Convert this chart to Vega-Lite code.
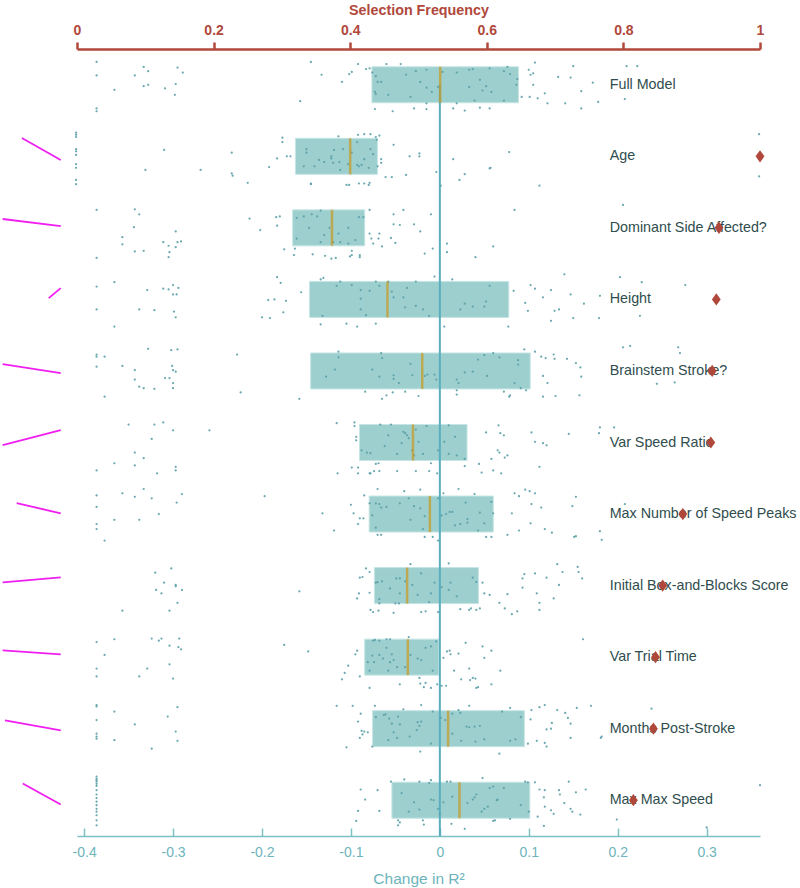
{
"$schema": "https://vega.github.io/schema/vega-lite/v6.json",
"width": 683, "height": 787,
"autosize": {"type": "none"},
"padding": {"left": 77, "top": 49, "right": 40, "bottom": 52},
"background": "white",
"config": {"view": {"stroke": null}, "font": "Liberation Sans"},
"datasets": {
"boxes": [
{"r":0,"name":"Full Model","lo":-0.0764,"hi":0.0884,"med":0.0004},
{"r":1,"name":"Age","lo":-0.1624,"hi":-0.0702,"med":-0.1008},
{"r":2,"name":"Dominant Side Affected?","lo":-0.1655,"hi":-0.0845,"med":-0.1213},
{"r":3,"name":"Height","lo":-0.1465,"hi":0.0775,"med":-0.0589},
{"r":4,"name":"Brainstem Stroke?","lo":-0.1453,"hi":0.1016,"med":-0.0198},
{"r":5,"name":"Var Speed Ratio","lo":-0.0903,"hi":0.0306,"med":-0.0302},
{"r":6,"name":"Max Number of Speed Peaks","lo":-0.0795,"hi":0.0601,"med":-0.0112},
{"r":7,"name":"Initial Box-and-Blocks Score","lo":-0.0736,"hi":0.0434,"med":-0.0368},
{"r":8,"name":"Var Trial Time","lo":-0.0845,"hi":-0.0012,"med":-0.036},
{"r":9,"name":"Months Post-Stroke","lo":-0.0756,"hi":0.095,"med":0.0093},
{"r":10,"name":"Max Max Speed","lo":-0.0539,"hi":0.1012,"med":0.0221}
],
"freq": [
{"r":1,"f":1.0},{"r":2,"f":0.940},{"r":3,"f":0.936},{"r":4,"f":0.930},{"r":5,"f":0.928},
{"r":6,"f":0.887},{"r":7,"f":0.8575},{"r":8,"f":0.847},{"r":9,"f":0.844},{"r":10,"f":0.8146}
],
"slopes": [
{"r":1,"d":-0.470,"j":-0.256},{"r":1,"d":-0.4263,"j":0.052},
{"r":2,"d":-0.4916,"j":-0.124},{"r":2,"d":-0.4263,"j":-0.025},
{"r":3,"d":-0.4398,"j":-0.018},{"r":3,"d":-0.4263,"j":-0.158},
{"r":4,"d":-0.4916,"j":-0.095},{"r":4,"d":-0.4263,"j":0.031},
{"r":5,"d":-0.4916,"j":0.038},{"r":5,"d":-0.4263,"j":-0.172},
{"r":6,"d":-0.4758,"j":-0.151},{"r":6,"d":-0.4263,"j":-0.011},
{"r":7,"d":-0.4916,"j":-0.046},{"r":7,"d":-0.4263,"j":-0.116},
{"r":8,"d":-0.4916,"j":-0.095},{"r":8,"d":-0.4263,"j":-0.039},
{"r":9,"d":-0.489,"j":-0.116},{"r":9,"d":-0.4263,"j":0.024},
{"r":10,"d":-0.469,"j":-0.235},{"r":10,"d":-0.4263,"j":0.059}
],
"pts": [
{"r":0,"d":-0.386,"j":-0.32},{"r":0,"d":-0.386,"j":-0.13},{"r":0,"d":-0.333,"j":-0.25},{"r":0,"d":-0.328,"j":-0.19},{"r":0,"d":-0.343,"j":-0.13},{"r":0,"d":-0.295,"j":-0.24},{"r":0,"d":-0.289,"j":-0.17},{"r":0,"d":-0.366,"j":0.07},{"r":0,"d":-0.333,"j":0.02},{"r":0,"d":-0.328,"j":0.0},{"r":0,"d":-0.309,"j":0.05},{"r":0,"d":-0.297,"j":-0.01},{"r":0,"d":-0.298,"j":0.14},{"r":0,"d":-0.386,"j":0.33},{"r":0,"d":-0.386,"j":0.37},
{"r":0,"d":-0.145,"j":-0.32},{"r":0,"d":-0.133,"j":-0.14},{"r":0,"d":-0.110,"j":-0.04},{"r":0,"d":-0.102,"j":-0.15},{"r":0,"d":-0.099,"j":-0.18},{"r":0,"d":-0.092,"j":-0.29},{"r":0,"d":-0.157,"j":0.23},{"r":0,"d":-0.083,"j":-0.22},{"r":0,"d":-0.079,"j":-0.23},{"r":0,"d":-0.076,"j":-0.17},{"r":0,"d":-0.060,"j":-0.29},{"r":0,"d":-0.044,"j":-0.29},
{"r":0,"d":-0.072,"j":-0.12},{"r":0,"d":-0.070,"j":-0.04},{"r":0,"d":-0.066,"j":-0.04},{"r":0,"d":-0.073,"j":0.10},{"r":0,"d":-0.072,"j":0.13},{"r":0,"d":-0.058,"j":0.14},{"r":0,"d":-0.038,"j":-0.14},{"r":0,"d":-0.027,"j":-0.19},{"r":0,"d":-0.015,"j":-0.21},{"r":0,"d":-0.022,"j":-0.04},{"r":0,"d":-0.015,"j":0.04},{"r":0,"d":-0.009,"j":0.10},{"r":0,"d":-0.002,"j":0.03},{"r":0,"d":-0.033,"j":0.17},{"r":0,"d":-0.015,"j":0.26},{"r":0,"d":0.003,"j":-0.18},{"r":0,"d":0.019,"j":-0.17},{"r":0,"d":0.033,"j":-0.21},{"r":0,"d":0.037,"j":-0.22},{"r":0,"d":0.045,"j":-0.07},{"r":0,"d":0.033,"j":0.03},{"r":0,"d":0.048,"j":0.08},{"r":0,"d":0.052,"j":0.02},{"r":0,"d":0.058,"j":0.10},{"r":0,"d":0.056,"j":-0.23},{"r":0,"d":0.072,"j":-0.19},{"r":0,"d":0.076,"j":-0.25},{"r":0,"d":0.079,"j":-0.15},{"r":0,"d":0.087,"j":-0.08},{"r":0,"d":0.086,"j":0.0},{"r":0,"d":0.039,"j":0.22},{"r":0,"d":0.072,"j":0.22},{"r":0,"d":0.019,"j":0.26},
{"r":0,"d":-0.073,"j":0.34},{"r":0,"d":-0.053,"j":0.37},{"r":0,"d":-0.029,"j":0.33},{"r":0,"d":-0.015,"j":0.34},{"r":0,"d":0.015,"j":0.33},{"r":0,"d":0.028,"j":0.36},{"r":0,"d":0.045,"j":0.32},{"r":0,"d":0.056,"j":0.33},
{"r":0,"d":0.092,"j":0.17},{"r":0,"d":0.100,"j":-0.21},{"r":0,"d":0.102,"j":-0.14},{"r":0,"d":0.107,"j":-0.31},{"r":0,"d":0.105,"j":-0.16},{"r":0,"d":0.105,"j":0.0},{"r":0,"d":0.110,"j":0.19},{"r":0,"d":0.101,"j":0.17},{"r":0,"d":0.118,"j":0.12},{"r":0,"d":0.121,"j":0.26},{"r":0,"d":0.133,"j":-0.11},{"r":0,"d":0.141,"j":0.26},{"r":0,"d":0.147,"j":-0.10},{"r":0,"d":0.150,"j":-0.26},{"r":0,"d":0.159,"j":0.09},{"r":0,"d":0.159,"j":0.33},{"r":0,"d":0.172,"j":-0.03},{"r":0,"d":0.178,"j":0.24},{"r":0,"d":0.210,"j":-0.26},{"r":0,"d":0.222,"j":-0.26},{"r":0,"d":0.208,"j":0.20},

{"r":1,"d":-0.409,"j":-0.33},{"r":1,"d":-0.409,"j":-0.30},{"r":1,"d":-0.409,"j":-0.27},{"r":1,"d":-0.409,"j":-0.10},{"r":1,"d":-0.409,"j":-0.07},{"r":1,"d":-0.409,"j":-0.02},{"r":1,"d":-0.409,"j":0.11},{"r":1,"d":-0.409,"j":0.16},{"r":1,"d":-0.409,"j":0.33},{"r":1,"d":-0.409,"j":0.39},
{"r":1,"d":-0.310,"j":-0.09},{"r":1,"d":-0.331,"j":0.19},{"r":1,"d":-0.269,"j":0.19},{"r":1,"d":-0.234,"j":-0.05},{"r":1,"d":-0.234,"j":0.24},{"r":1,"d":-0.233,"j":0.27},{"r":1,"d":-0.216,"j":0.37},{"r":1,"d":-0.192,"j":0.15},{"r":1,"d":-0.183,"j":0.03},{"r":1,"d":-0.177,"j":-0.26},{"r":1,"d":-0.177,"j":-0.20},{"r":1,"d":-0.172,"j":0.0},{"r":1,"d":-0.168,"j":0.0},{"r":1,"d":-0.145,"j":0.39},{"r":1,"d":-0.114,"j":-0.28},{"r":1,"d":-0.105,"j":0.40},{"r":1,"d":-0.102,"j":0.40},{"r":1,"d":-0.091,"j":0.38},{"r":1,"d":-0.085,"j":0.38},{"r":1,"d":-0.080,"j":0.40},{"r":1,"d":-0.079,"j":0.37},{"r":1,"d":-0.092,"j":-0.30},{"r":1,"d":-0.085,"j":-0.31},{"r":1,"d":-0.078,"j":-0.31},{"r":1,"d":-0.072,"j":-0.27},{"r":1,"d":-0.068,"j":-0.29},{"r":1,"d":-0.071,"j":-0.23},{"r":1,"d":-0.066,"j":0.04},{"r":1,"d":-0.066,"j":0.09},{"r":1,"d":-0.070,"j":0.14},{"r":1,"d":-0.061,"j":0.29},{"r":1,"d":-0.054,"j":0.29},{"r":1,"d":-0.052,"j":-0.16},{"r":1,"d":-0.038,"j":0.26},{"r":1,"d":-0.034,"j":0.0},{"r":1,"d":-0.023,"j":-0.04},{"r":1,"d":-0.023,"j":0.0},{"r":1,"d":-0.004,"j":0.22},{"r":1,"d":0.001,"j":0.41},{"r":1,"d":0.015,"j":0.04},{"r":1,"d":0.022,"j":0.33},{"r":1,"d":0.028,"j":0.25},{"r":1,"d":0.056,"j":0.17},{"r":1,"d":0.057,"j":0.16},{"r":1,"d":0.078,"j":-0.06},{"r":1,"d":0.112,"j":0.41},
{"r":1,"d":-0.150,"j":-0.10},{"r":1,"d":-0.150,"j":-0.05},{"r":1,"d":-0.153,"j":0.14},{"r":1,"d":-0.141,"j":0.14},{"r":1,"d":-0.136,"j":0.05},{"r":1,"d":-0.130,"j":0.08},{"r":1,"d":-0.122,"j":0.0},{"r":1,"d":-0.122,"j":0.03},{"r":1,"d":-0.119,"j":-0.09},{"r":1,"d":-0.120,"j":0.09},{"r":1,"d":-0.113,"j":0.08},{"r":1,"d":-0.109,"j":-0.10},{"r":1,"d":-0.112,"j":0.19},{"r":1,"d":-0.103,"j":0.11},{"r":1,"d":-0.099,"j":-0.05},{"r":1,"d":-0.093,"j":-0.20},{"r":1,"d":-0.093,"j":0.12},{"r":1,"d":-0.091,"j":0.14},{"r":1,"d":-0.088,"j":0.12},{"r":1,"d":-0.085,"j":0.04},{"r":1,"d":-0.080,"j":0.16},{"r":1,"d":-0.078,"j":-0.10},{"r":1,"d":-0.075,"j":-0.03},{"r":1,"d":-0.145,"j":0.38},{"r":1,"d":0.359,"j":-0.31},{"r":1,"d":0.359,"j":0.28},

{"r":2,"d":-0.386,"j":-0.25},{"r":2,"d":-0.386,"j":0.42},{"r":2,"d":-0.343,"j":-0.26},{"r":2,"d":-0.338,"j":-0.19},{"r":2,"d":-0.344,"j":-0.01},{"r":2,"d":-0.357,"j":0.13},{"r":2,"d":-0.357,"j":0.23},{"r":2,"d":-0.343,"j":0.33},{"r":2,"d":-0.333,"j":0.32},{"r":2,"d":-0.311,"j":0.20},{"r":2,"d":-0.305,"j":0.25},{"r":2,"d":-0.304,"j":0.34},{"r":2,"d":-0.305,"j":0.41},{"r":2,"d":-0.297,"j":0.27},{"r":2,"d":-0.295,"j":0.20},{"r":2,"d":-0.291,"j":0.19},{"r":2,"d":-0.297,"j":0.05},
{"r":2,"d":-0.214,"j":-0.13},{"r":2,"d":-0.202,"j":0.03},{"r":2,"d":-0.184,"j":-0.15},{"r":2,"d":-0.180,"j":-0.16},{"r":2,"d":-0.183,"j":-0.03},{"r":2,"d":-0.175,"j":0.30},{"r":2,"d":-0.164,"j":0.38},{"r":2,"d":-0.143,"j":0.37},{"r":2,"d":-0.134,"j":-0.24},{"r":2,"d":-0.129,"j":0.39},{"r":2,"d":-0.122,"j":0.43},{"r":2,"d":-0.117,"j":0.42},{"r":2,"d":-0.101,"j":0.40},{"r":2,"d":-0.099,"j":0.38},{"r":2,"d":-0.090,"j":0.38},{"r":2,"d":-0.090,"j":0.41},{"r":2,"d":-0.079,"j":-0.25},{"r":2,"d":-0.079,"j":0.08},{"r":2,"d":-0.077,"j":0.15},{"r":2,"d":-0.075,"j":0.22},{"r":2,"d":-0.069,"j":0.15},{"r":2,"d":-0.068,"j":0.08},{"r":2,"d":-0.065,"j":0.26},{"r":2,"d":-0.055,"j":0.14},{"r":2,"d":-0.052,"j":-0.19},{"r":2,"d":-0.052,"j":-0.05},{"r":2,"d":-0.045,"j":-0.04},{"r":2,"d":-0.041,"j":-0.25},{"r":2,"d":-0.050,"j":0.21},{"r":2,"d":-0.029,"j":-0.05},{"r":2,"d":-0.022,"j":0.05},{"r":2,"d":-0.010,"j":-0.19},{"r":2,"d":-0.017,"j":0.36},{"r":2,"d":-0.008,"j":0.29},{"r":2,"d":0.008,"j":0.22},{"r":2,"d":0.008,"j":0.34},{"r":2,"d":0.040,"j":0.41},{"r":2,"d":0.060,"j":0.26},{"r":2,"d":0.084,"j":-0.25},
{"r":2,"d":-0.161,"j":-0.14},{"r":2,"d":-0.153,"j":-0.16},{"r":2,"d":-0.144,"j":-0.19},{"r":2,"d":-0.138,"j":-0.16},{"r":2,"d":-0.147,"j":0.0},{"r":2,"d":-0.130,"j":0.10},{"r":2,"d":-0.134,"j":0.20},{"r":2,"d":-0.124,"j":0.0},{"r":2,"d":-0.120,"j":0.20},{"r":2,"d":-0.114,"j":0.08},{"r":2,"d":-0.112,"j":0.20},{"r":2,"d":-0.103,"j":0.22},{"r":2,"d":-0.099,"j":0.32},{"r":2,"d":-0.095,"j":0.17},{"r":2,"d":-0.091,"j":-0.15},{"r":2,"d":-0.086,"j":-0.15},{"r":2,"d":-0.103,"j":0.0},{"r":2,"d":-0.161,"j":0.15},{"r":2,"d":-0.163,"j":0.29},{"r":2,"d":0.206,"j":-0.32},

{"r":3,"d":-0.386,"j":-0.18},{"r":3,"d":-0.386,"j":0.14},{"r":3,"d":-0.366,"j":-0.24},{"r":3,"d":-0.366,"j":0.38},{"r":3,"d":-0.338,"j":0.14},{"r":3,"d":-0.329,"j":-0.13},{"r":3,"d":-0.321,"j":0.15},{"r":3,"d":-0.311,"j":-0.15},{"r":3,"d":-0.305,"j":-0.14},{"r":3,"d":-0.300,"j":-0.20},{"r":3,"d":-0.294,"j":-0.16},{"r":3,"d":-0.300,"j":-0.07},{"r":3,"d":-0.296,"j":-0.07},{"r":3,"d":-0.299,"j":0.17},{"r":3,"d":-0.297,"j":0.25},
{"r":3,"d":-0.200,"j":0.25},{"r":3,"d":-0.191,"j":0.26},{"r":3,"d":-0.193,"j":0.01},{"r":3,"d":-0.186,"j":0.0},{"r":3,"d":-0.176,"j":0.18},{"r":3,"d":-0.173,"j":0.02},{"r":3,"d":-0.183,"j":-0.31},{"r":3,"d":-0.179,"j":-0.23},{"r":3,"d":-0.156,"j":-0.10},{"r":3,"d":-0.134,"j":-0.28},{"r":3,"d":-0.131,"j":-0.30},{"r":3,"d":-0.134,"j":0.35},{"r":3,"d":-0.105,"j":0.34},{"r":3,"d":-0.093,"j":0.38},{"r":3,"d":-0.072,"j":0.34},
{"r":3,"d":-0.132,"j":0.23},{"r":3,"d":-0.116,"j":-0.19},{"r":3,"d":-0.112,"j":-0.25},{"r":3,"d":-0.099,"j":-0.20},{"r":3,"d":-0.089,"j":-0.13},{"r":3,"d":-0.089,"j":-0.01},{"r":3,"d":-0.089,"j":0.14},{"r":3,"d":-0.079,"j":-0.12},{"r":3,"d":-0.083,"j":0.22},{"r":3,"d":-0.072,"j":-0.25},{"r":3,"d":-0.068,"j":-0.19},{"r":3,"d":-0.058,"j":-0.25},{"r":3,"d":-0.054,"j":-0.11},{"r":3,"d":-0.052,"j":-0.03},{"r":3,"d":-0.041,"j":-0.03},{"r":3,"d":-0.039,"j":0.11},{"r":3,"d":-0.037,"j":-0.16},{"r":3,"d":-0.027,"j":-0.25},{"r":3,"d":-0.027,"j":0.09},{"r":3,"d":-0.019,"j":0.14},{"r":3,"d":-0.012,"j":0.23},{"r":3,"d":-0.006,"j":-0.32},{"r":3,"d":0.014,"j":-0.28},{"r":3,"d":0.023,"j":0.14},{"r":3,"d":0.028,"j":0.06},{"r":3,"d":0.037,"j":0.10},{"r":3,"d":0.050,"j":0.10},{"r":3,"d":0.052,"j":0.03},{"r":3,"d":0.056,"j":-0.19},
{"r":3,"d":0.005,"j":0.38},{"r":3,"d":0.077,"j":0.38},{"r":3,"d":0.083,"j":-0.12},{"r":3,"d":0.096,"j":0.05},{"r":3,"d":0.099,"j":0.16},{"r":3,"d":0.102,"j":-0.20},{"r":3,"d":0.107,"j":-0.15},{"r":3,"d":0.116,"j":-0.03},{"r":3,"d":0.125,"j":-0.13},{"r":3,"d":0.125,"j":0.30},{"r":3,"d":0.129,"j":0.16},{"r":3,"d":0.134,"j":0.14},{"r":3,"d":0.140,"j":-0.35},{"r":3,"d":0.147,"j":-0.07},{"r":3,"d":0.150,"j":0.26},{"r":3,"d":0.162,"j":0.06},{"r":3,"d":0.179,"j":0.26},{"r":3,"d":0.180,"j":-0.05},{"r":3,"d":0.2025,"j":-0.31},{"r":3,"d":0.227,"j":-0.24},{"r":3,"d":0.276,"j":-0.20},{"r":3,"d":0.225,"j":0.23},

{"r":4,"d":-0.386,"j":-0.23},{"r":4,"d":-0.386,"j":-0.20},{"r":4,"d":-0.386,"j":-0.06},{"r":4,"d":-0.377,"j":-0.20},{"r":4,"d":-0.377,"j":0.36},{"r":4,"d":-0.357,"j":-0.07},{"r":4,"d":-0.343,"j":-0.01},{"r":4,"d":-0.343,"j":0.12},{"r":4,"d":-0.338,"j":0.22},{"r":4,"d":-0.333,"j":0.24},{"r":4,"d":-0.328,"j":-0.31},{"r":4,"d":-0.321,"j":0.25},{"r":4,"d":-0.309,"j":0.10},{"r":4,"d":-0.304,"j":0.10},{"r":4,"d":-0.302,"j":-0.29},{"r":4,"d":-0.295,"j":-0.30},{"r":4,"d":-0.301,"j":-0.07},{"r":4,"d":-0.300,"j":-0.01},{"r":4,"d":-0.297,"j":0.01},{"r":4,"d":-0.300,"j":0.17},{"r":4,"d":-0.300,"j":0.24},{"r":4,"d":-0.228,"j":-0.23},{"r":4,"d":-0.224,"j":0.30},{"r":4,"d":-0.158,"j":0.39},
{"r":4,"d":-0.128,"j":0.08},{"r":4,"d":-0.118,"j":-0.02},{"r":4,"d":-0.114,"j":-0.19},{"r":4,"d":-0.114,"j":-0.27},{"r":4,"d":-0.084,"j":0.29},{"r":4,"d":-0.076,"j":-0.02},{"r":4,"d":-0.068,"j":0.08},{"r":4,"d":-0.066,"j":-0.25},{"r":4,"d":-0.065,"j":-0.18},{"r":4,"d":-0.052,"j":0.06},{"r":4,"d":-0.052,"j":0.11},{"r":4,"d":-0.046,"j":0.17},{"r":4,"d":-0.039,"j":0.29},{"r":4,"d":-0.033,"j":-0.10},{"r":4,"d":-0.031,"j":0.06},{"r":4,"d":-0.017,"j":0.07},{"r":4,"d":-0.014,"j":0.05},{"r":4,"d":-0.006,"j":0.05},{"r":4,"d":-0.004,"j":0.12},{"r":4,"d":0.019,"j":0.12},{"r":4,"d":0.021,"j":0.17},{"r":4,"d":0.019,"j":0.27},{"r":4,"d":0.028,"j":0.02},{"r":4,"d":0.037,"j":0.01},{"r":4,"d":0.043,"j":-0.16},{"r":4,"d":0.050,"j":-0.22},{"r":4,"d":0.053,"j":0.07},{"r":4,"d":0.060,"j":-0.25},{"r":4,"d":0.067,"j":-0.19},{"r":4,"d":0.072,"j":0.29},{"r":4,"d":0.084,"j":0.17},{"r":4,"d":0.088,"j":-0.09},{"r":4,"d":0.088,"j":-0.15},{"r":4,"d":0.091,"j":0.24},{"r":4,"d":0.095,"j":-0.30},{"r":4,"d":0.097,"j":0.27},
{"r":4,"d":-0.065,"j":0.39},{"r":4,"d":-0.060,"j":0.34},{"r":4,"d":-0.053,"j":0.30},{"r":4,"d":-0.024,"j":0.35},{"r":4,"d":0.019,"j":0.33},{"r":4,"d":0.078,"j":0.36},{"r":4,"d":0.079,"j":0.34},
{"r":4,"d":0.107,"j":-0.27},{"r":4,"d":0.114,"j":-0.20},{"r":4,"d":0.116,"j":0.07},{"r":4,"d":0.121,"j":0.17},{"r":4,"d":0.119,"j":-0.18},{"r":4,"d":0.128,"j":-0.23},{"r":4,"d":0.129,"j":-0.17},{"r":4,"d":0.116,"j":0.36},{"r":4,"d":0.130,"j":0.35},{"r":4,"d":0.143,"j":-0.17},{"r":4,"d":0.153,"j":-0.11},{"r":4,"d":0.158,"j":-0.05},{"r":4,"d":0.159,"j":0.08},{"r":4,"d":0.157,"j":0.34},{"r":4,"d":0.206,"j":-0.33},{"r":4,"d":0.214,"j":-0.35},{"r":4,"d":0.268,"j":-0.33},{"r":4,"d":0.270,"j":-0.25},{"r":4,"d":0.244,"j":0.18},{"r":4,"d":0.264,"j":0.16},

{"r":5,"d":-0.386,"j":0.39},{"r":5,"d":-0.366,"j":0.29},{"r":5,"d":-0.350,"j":-0.25},{"r":5,"d":-0.343,"j":0.14},{"r":5,"d":-0.343,"j":0.32},{"r":5,"d":-0.333,"j":0.22},{"r":5,"d":-0.324,"j":-0.05},{"r":5,"d":-0.321,"j":-0.25},{"r":5,"d":-0.311,"j":-0.28},{"r":5,"d":-0.318,"j":0.43},{"r":5,"d":-0.300,"j":-0.17},{"r":5,"d":-0.297,"j":0.34},{"r":5,"d":-0.297,"j":0.39},{"r":5,"d":-0.259,"j":-0.17},
{"r":5,"d":-0.116,"j":-0.27},{"r":5,"d":-0.115,"j":0.43},{"r":5,"d":-0.099,"j":0.35},{"r":5,"d":-0.096,"j":-0.28},{"r":5,"d":-0.096,"j":-0.23},{"r":5,"d":-0.094,"j":-0.08},{"r":5,"d":-0.094,"j":-0.03},{"r":5,"d":-0.092,"j":0.35},{"r":5,"d":-0.092,"j":0.43},{"r":5,"d":-0.079,"j":0.43},{"r":5,"d":-0.078,"j":0.43},{"r":5,"d":-0.074,"j":0.40},{"r":5,"d":-0.068,"j":0.40},{"r":5,"d":-0.067,"j":-0.25},{"r":5,"d":-0.055,"j":-0.25},
{"r":5,"d":-0.088,"j":0.11},{"r":5,"d":-0.082,"j":0.14},{"r":5,"d":-0.078,"j":0.15},{"r":5,"d":-0.072,"j":0.30},{"r":5,"d":-0.069,"j":0.29},{"r":5,"d":-0.062,"j":0.05},{"r":5,"d":-0.058,"j":-0.10},{"r":5,"d":-0.048,"j":0.16},{"r":5,"d":-0.043,"j":0.01},{"r":5,"d":-0.041,"j":-0.15},{"r":5,"d":-0.039,"j":-0.13},{"r":5,"d":-0.037,"j":-0.10},{"r":5,"d":-0.035,"j":-0.06},{"r":5,"d":-0.031,"j":0.11},{"r":5,"d":-0.029,"j":0.18},{"r":5,"d":-0.027,"j":-0.18},{"r":5,"d":-0.024,"j":-0.01},{"r":5,"d":-0.019,"j":0.16},{"r":5,"d":-0.015,"j":-0.23},{"r":5,"d":-0.010,"j":0.29},{"r":5,"d":-0.002,"j":0.11},{"r":5,"d":0.005,"j":-0.01},{"r":5,"d":0.010,"j":-0.24},{"r":5,"d":0.010,"j":0.16},{"r":5,"d":0.017,"j":-0.08},{"r":5,"d":0.019,"j":0.18},{"r":5,"d":0.028,"j":0.23},{"r":5,"d":0.028,"j":0.33},
{"r":5,"d":-0.048,"j":0.40},{"r":5,"d":-0.027,"j":0.40},{"r":5,"d":-0.012,"j":0.40},{"r":5,"d":-0.003,"j":0.43},
{"r":5,"d":0.044,"j":0.30},{"r":5,"d":0.047,"j":0.42},{"r":5,"d":0.052,"j":-0.14},{"r":5,"d":0.058,"j":0.23},{"r":5,"d":0.060,"j":0.39},{"r":5,"d":0.065,"j":0.11},{"r":5,"d":0.067,"j":0.14},{"r":5,"d":0.066,"j":-0.24},{"r":5,"d":0.068,"j":-0.13},{"r":5,"d":0.072,"j":-0.10},{"r":5,"d":0.073,"j":0.21},{"r":5,"d":0.076,"j":0.18},{"r":5,"d":0.069,"j":0.43},{"r":5,"d":0.103,"j":-0.14},{"r":5,"d":0.107,"j":-0.01},{"r":5,"d":0.112,"j":0.34},{"r":5,"d":0.116,"j":0.01},{"r":5,"d":0.120,"j":0.04},{"r":5,"d":0.145,"j":-0.12},{"r":5,"d":0.179,"j":-0.13},{"r":5,"d":0.180,"j":-0.21},{"r":5,"d":0.196,"j":-0.21},

{"r":6,"d":-0.386,"j":-0.26},{"r":6,"d":-0.386,"j":-0.10},{"r":6,"d":-0.386,"j":0.14},{"r":6,"d":-0.386,"j":0.21},{"r":6,"d":-0.377,"j":0.37},{"r":6,"d":-0.366,"j":0.08},{"r":6,"d":-0.357,"j":-0.29},{"r":6,"d":-0.343,"j":-0.24},{"r":6,"d":-0.338,"j":0.08},{"r":6,"d":-0.333,"j":-0.35},{"r":6,"d":-0.324,"j":-0.22},{"r":6,"d":-0.316,"j":0.0},{"r":6,"d":-0.296,"j":-0.16},{"r":6,"d":-0.290,"j":-0.28},{"r":6,"d":-0.197,"j":-0.25},
{"r":6,"d":-0.132,"j":-0.01},{"r":6,"d":-0.119,"j":0.23},{"r":6,"d":-0.100,"j":-0.13},{"r":6,"d":-0.097,"j":-0.01},{"r":6,"d":-0.092,"j":0.14},{"r":6,"d":-0.090,"j":0.06},{"r":6,"d":-0.086,"j":0.06},{"r":6,"d":-0.085,"j":-0.26},{"r":6,"d":-0.079,"j":-0.15},{"r":6,"d":-0.070,"j":-0.35},{"r":6,"d":-0.040,"j":-0.32},{"r":6,"d":-0.022,"j":-0.34},
{"r":6,"d":-0.076,"j":0.02},{"r":6,"d":-0.072,"j":-0.15},{"r":6,"d":-0.068,"j":-0.14},{"r":6,"d":-0.066,"j":-0.09},{"r":6,"d":-0.060,"j":-0.10},{"r":6,"d":-0.072,"j":0.19},{"r":6,"d":-0.070,"j":0.29},{"r":6,"d":-0.066,"j":0.29},{"r":6,"d":-0.045,"j":-0.15},{"r":6,"d":-0.035,"j":-0.22},{"r":6,"d":-0.033,"j":0.08},{"r":6,"d":-0.029,"j":-0.11},{"r":6,"d":-0.022,"j":-0.08},{"r":6,"d":-0.019,"j":0.21},{"r":6,"d":-0.017,"j":0.03},{"r":6,"d":-0.002,"j":-0.22},{"r":6,"d":0.002,"j":0.02},{"r":6,"d":0.007,"j":0.0},{"r":6,"d":0.011,"j":-0.03},{"r":6,"d":0.014,"j":-0.03},{"r":6,"d":0.017,"j":0.16},{"r":6,"d":0.023,"j":0.14},{"r":6,"d":0.029,"j":-0.16},{"r":6,"d":0.031,"j":0.07},{"r":6,"d":0.031,"j":0.12},{"r":6,"d":0.043,"j":0.23},{"r":6,"d":0.045,"j":-0.02},{"r":6,"d":0.050,"j":0.13},{"r":6,"d":0.058,"j":-0.17},{"r":6,"d":0.060,"j":-0.01},
{"r":6,"d":-0.017,"j":0.32},{"r":6,"d":-0.008,"j":0.32},{"r":6,"d":-0.002,"j":0.37},{"r":6,"d":0.004,"j":-0.29},{"r":6,"d":0.021,"j":-0.35},{"r":6,"d":0.039,"j":-0.28},{"r":6,"d":0.052,"j":0.32},{"r":6,"d":0.058,"j":0.32},
{"r":6,"d":0.076,"j":0.29},{"r":6,"d":0.081,"j":-0.01},{"r":6,"d":0.084,"j":-0.29},{"r":6,"d":0.089,"j":-0.25},{"r":6,"d":0.089,"j":0.23},{"r":6,"d":0.096,"j":-0.34},{"r":6,"d":0.101,"j":-0.32},{"r":6,"d":0.103,"j":-0.14},{"r":6,"d":0.102,"j":0.13},{"r":6,"d":0.107,"j":-0.29},{"r":6,"d":0.114,"j":-0.09},{"r":6,"d":0.118,"j":0.21},{"r":6,"d":0.126,"j":0.26},{"r":6,"d":0.149,"j":-0.11},{"r":6,"d":0.151,"j":0.32},{"r":6,"d":0.153,"j":0.31},{"r":6,"d":0.153,"j":-0.24},{"r":6,"d":0.180,"j":0.24},{"r":6,"d":0.182,"j":0.36},{"r":6,"d":0.208,"j":-0.14},

{"r":7,"d":-0.357,"j":0.35},{"r":7,"d":-0.320,"j":-0.18},{"r":7,"d":-0.319,"j":0.06},{"r":7,"d":-0.313,"j":0.11},{"r":7,"d":-0.310,"j":-0.04},{"r":7,"d":-0.302,"j":-0.24},{"r":7,"d":-0.297,"j":-0.01},{"r":7,"d":-0.297,"j":0.01},{"r":7,"d":-0.290,"j":0.06},{"r":7,"d":-0.295,"j":0.24},{"r":7,"d":-0.304,"j":0.35},{"r":7,"d":-0.158,"j":0.08},
{"r":7,"d":-0.093,"j":0.18},{"r":7,"d":-0.091,"j":0.11},{"r":7,"d":-0.090,"j":-0.11},{"r":7,"d":-0.087,"j":-0.12},{"r":7,"d":-0.083,"j":-0.24},{"r":7,"d":-0.079,"j":-0.19},{"r":7,"d":-0.079,"j":0.10},{"r":7,"d":-0.078,"j":0.34},{"r":7,"d":-0.075,"j":0.37},{"r":7,"d":-0.069,"j":0.35},{"r":7,"d":-0.052,"j":0.38},{"r":7,"d":-0.033,"j":-0.30},{"r":7,"d":-0.021,"j":0.37},{"r":7,"d":-0.016,"j":0.36},
{"r":7,"d":-0.072,"j":-0.04},{"r":7,"d":-0.070,"j":-0.05},{"r":7,"d":-0.068,"j":0.19},{"r":7,"d":-0.065,"j":-0.06},{"r":7,"d":-0.068,"j":0.25},{"r":7,"d":-0.056,"j":0.04},{"r":7,"d":-0.049,"j":-0.10},{"r":7,"d":-0.045,"j":-0.10},{"r":7,"d":-0.045,"j":0.11},{"r":7,"d":-0.050,"j":0.25},{"r":7,"d":-0.046,"j":0.25},{"r":7,"d":-0.039,"j":-0.06},{"r":7,"d":-0.031,"j":-0.01},{"r":7,"d":-0.025,"j":0.13},{"r":7,"d":-0.021,"j":-0.17},{"r":7,"d":-0.012,"j":0.23},{"r":7,"d":-0.010,"j":0.11},{"r":7,"d":-0.006,"j":-0.04},{"r":7,"d":0.002,"j":0.02},{"r":7,"d":0.010,"j":0.06},{"r":7,"d":0.012,"j":-0.04},{"r":7,"d":0.019,"j":0.15},{"r":7,"d":0.037,"j":-0.11},{"r":7,"d":0.041,"j":-0.05},{"r":7,"d":0.010,"j":-0.31},
{"r":7,"d":-0.002,"j":0.37},{"r":7,"d":0.023,"j":0.33},{"r":7,"d":0.033,"j":0.34},{"r":7,"d":0.035,"j":0.32},{"r":7,"d":0.041,"j":0.34},{"r":7,"d":0.045,"j":0.32},
{"r":7,"d":0.048,"j":-0.04},{"r":7,"d":0.050,"j":0.11},{"r":7,"d":0.056,"j":0.13},{"r":7,"d":0.067,"j":0.24},{"r":7,"d":0.073,"j":0.32},{"r":7,"d":0.076,"j":0.12},{"r":7,"d":0.081,"j":0.40},{"r":7,"d":0.087,"j":0.36},{"r":7,"d":0.093,"j":-0.10},{"r":7,"d":0.093,"j":0.03},{"r":7,"d":0.095,"j":-0.16},{"r":7,"d":0.107,"j":-0.17},{"r":7,"d":0.109,"j":0.11},{"r":7,"d":0.112,"j":0.24},{"r":7,"d":0.112,"j":0.34},{"r":7,"d":0.120,"j":-0.11},{"r":7,"d":0.128,"j":0.18},{"r":7,"d":0.132,"j":-0.30},{"r":7,"d":0.134,"j":-0.01},{"r":7,"d":0.138,"j":-0.19},{"r":7,"d":0.155,"j":-0.26},{"r":7,"d":0.156,"j":-0.19},{"r":7,"d":0.160,"j":-0.10},

{"r":8,"d":-0.386,"j":-0.21},{"r":8,"d":-0.386,"j":0.16},{"r":8,"d":-0.386,"j":0.27},{"r":8,"d":-0.377,"j":-0.03},{"r":8,"d":-0.366,"j":-0.25},{"r":8,"d":-0.338,"j":0.27},{"r":8,"d":-0.329,"j":0.16},{"r":8,"d":-0.324,"j":-0.26},{"r":8,"d":-0.316,"j":-0.23},{"r":8,"d":-0.313,"j":-0.26},{"r":8,"d":-0.304,"j":-0.16},{"r":8,"d":-0.300,"j":0.30},{"r":8,"d":-0.293,"j":-0.26},{"r":8,"d":-0.294,"j":-0.14},{"r":8,"d":-0.291,"j":-0.11},{"r":8,"d":-0.304,"j":0.10},{"r":8,"d":-0.175,"j":-0.17},{"r":8,"d":-0.148,"j":-0.08},
{"r":8,"d":-0.110,"j":0.31},{"r":8,"d":-0.107,"j":0.22},{"r":8,"d":-0.103,"j":0.12},{"r":8,"d":-0.095,"j":-0.04},{"r":8,"d":-0.093,"j":-0.09},{"r":8,"d":-0.090,"j":0.27},{"r":8,"d":-0.079,"j":0.43},{"r":8,"d":-0.075,"j":-0.23},{"r":8,"d":-0.073,"j":-0.24},{"r":8,"d":-0.068,"j":-0.23},{"r":8,"d":-0.060,"j":-0.25},{"r":8,"d":-0.056,"j":-0.25},{"r":8,"d":-0.045,"j":0.38},{"r":8,"d":-0.035,"j":-0.28},{"r":8,"d":-0.022,"j":0.37},{"r":8,"d":-0.016,"j":0.36},{"r":8,"d":-0.018,"j":0.42},{"r":8,"d":-0.010,"j":0.43},{"r":8,"d":-0.004,"j":-0.22},{"r":8,"d":-0.003,"j":0.38},{"r":8,"d":0.002,"j":0.40},{"r":8,"d":0.007,"j":0.40},
{"r":8,"d":-0.081,"j":0.07},{"r":8,"d":-0.076,"j":-0.02},{"r":8,"d":-0.074,"j":0.07},{"r":8,"d":-0.068,"j":-0.03},{"r":8,"d":-0.064,"j":0.02},{"r":8,"d":-0.060,"j":-0.13},{"r":8,"d":-0.058,"j":0.19},{"r":8,"d":-0.054,"j":-0.04},{"r":8,"d":-0.056,"j":0.07},{"r":8,"d":-0.052,"j":0.04},{"r":8,"d":-0.048,"j":0.14},{"r":8,"d":-0.039,"j":0.14},{"r":8,"d":-0.033,"j":-0.03},{"r":8,"d":-0.025,"j":0.02},{"r":8,"d":-0.021,"j":0.04},{"r":8,"d":-0.016,"j":-0.13},{"r":8,"d":-0.023,"j":0.29},{"r":8,"d":-0.010,"j":-0.15},{"r":8,"d":-0.008,"j":0.19},{"r":8,"d":-0.079,"j":0.19},
{"r":8,"d":0.004,"j":0.01},{"r":8,"d":0.008,"j":-0.08},{"r":8,"d":0.011,"j":-0.09},{"r":8,"d":0.012,"j":-0.04},{"r":8,"d":0.016,"j":0.19},{"r":8,"d":0.021,"j":-0.05},{"r":8,"d":0.024,"j":0.31},{"r":8,"d":0.029,"j":-0.20},{"r":8,"d":0.033,"j":0.16},{"r":8,"d":0.034,"j":0.32},{"r":8,"d":0.037,"j":0.29},{"r":8,"d":0.040,"j":0.30},{"r":8,"d":0.041,"j":0.43},{"r":8,"d":0.043,"j":0.42},{"r":8,"d":0.048,"j":-0.15},{"r":8,"d":0.050,"j":0.01},{"r":8,"d":0.058,"j":-0.09},{"r":8,"d":0.058,"j":0.38},{"r":8,"d":0.068,"j":0.19},{"r":8,"d":0.161,"j":-0.25},

{"r":9,"d":-0.386,"j":-0.33},{"r":9,"d":-0.386,"j":-0.31},{"r":9,"d":-0.386,"j":-0.12},{"r":9,"d":-0.386,"j":0.07},{"r":9,"d":-0.386,"j":0.11},{"r":9,"d":-0.386,"j":0.14},{"r":9,"d":-0.366,"j":-0.24},{"r":9,"d":-0.366,"j":0.16},{"r":9,"d":-0.343,"j":-0.06},{"r":9,"d":-0.324,"j":0.28},{"r":9,"d":-0.306,"j":-0.17},{"r":9,"d":-0.297,"j":0.04},{"r":9,"d":-0.295,"j":-0.30},{"r":9,"d":-0.295,"j":0.17},
{"r":9,"d":-0.116,"j":-0.32},{"r":9,"d":-0.098,"j":-0.32},{"r":9,"d":-0.105,"j":0.26},{"r":9,"d":-0.092,"j":-0.10},{"r":9,"d":-0.089,"j":-0.21},{"r":9,"d":-0.088,"j":0.03},{"r":9,"d":-0.087,"j":0.08},{"r":9,"d":-0.085,"j":0.04},{"r":9,"d":-0.081,"j":0.05},{"r":9,"d":-0.090,"j":0.13},{"r":9,"d":-0.076,"j":0.25},{"r":9,"d":-0.073,"j":-0.32},{"r":9,"d":-0.041,"j":-0.27},{"r":9,"d":-0.021,"j":-0.33},{"r":9,"d":-0.022,"j":0.32},
{"r":9,"d":-0.072,"j":-0.16},{"r":9,"d":-0.063,"j":-0.19},{"r":9,"d":-0.061,"j":-0.20},{"r":9,"d":-0.057,"j":-0.14},{"r":9,"d":-0.054,"j":-0.07},{"r":9,"d":-0.047,"j":-0.17},{"r":9,"d":-0.045,"j":-0.06},{"r":9,"d":-0.052,"j":0.05},{"r":9,"d":-0.058,"j":0.16},{"r":9,"d":-0.048,"j":0.13},{"r":9,"d":-0.034,"j":0.11},{"r":9,"d":-0.026,"j":0.02},{"r":9,"d":-0.025,"j":-0.09},{"r":9,"d":-0.021,"j":-0.10},{"r":9,"d":-0.023,"j":-0.04},{"r":9,"d":-0.010,"j":0.21},{"r":9,"d":-0.008,"j":-0.24},{"r":9,"d":0.001,"j":-0.15},{"r":9,"d":0.006,"j":-0.12},{"r":9,"d":0.014,"j":-0.21},{"r":9,"d":0.014,"j":0.07},{"r":9,"d":0.024,"j":0.17},{"r":9,"d":0.021,"j":-0.26},{"r":9,"d":0.030,"j":-0.03},{"r":9,"d":0.033,"j":-0.02},{"r":9,"d":0.039,"j":-0.03},{"r":9,"d":0.045,"j":-0.04},{"r":9,"d":0.040,"j":0.18},{"r":9,"d":0.050,"j":0.15},{"r":9,"d":0.070,"j":-0.24},{"r":9,"d":0.079,"j":0.17},{"r":9,"d":0.085,"j":0.15},{"r":9,"d":0.091,"j":-0.16},{"r":9,"d":0.023,"j":-0.22},{"r":9,"d":0.033,"j":-0.32},
{"r":9,"d":0.067,"j":0.35},{"r":9,"d":0.079,"j":-0.29},{"r":9,"d":0.099,"j":0.21},{"r":9,"d":0.102,"j":-0.13},{"r":9,"d":0.103,"j":-0.26},{"r":9,"d":0.109,"j":0.17},{"r":9,"d":0.112,"j":-0.30},{"r":9,"d":0.118,"j":-0.33},{"r":9,"d":0.118,"j":0.20},{"r":9,"d":0.120,"j":0.25},{"r":9,"d":0.120,"j":0.01},{"r":9,"d":0.126,"j":-0.08},{"r":9,"d":0.125,"j":0.0},{"r":9,"d":0.132,"j":-0.26},{"r":9,"d":0.141,"j":-0.22},{"r":9,"d":0.144,"j":-0.15},{"r":9,"d":0.147,"j":-0.07},{"r":9,"d":0.147,"j":0.13},{"r":9,"d":0.154,"j":-0.29},{"r":9,"d":0.170,"j":-0.32},{"r":9,"d":0.181,"j":0.13},{"r":9,"d":0.238,"j":-0.28},{"r":9,"d":0.182,"j":0.11},

{"r":10,"d":-0.386,"j":-0.33},{"r":10,"d":-0.386,"j":-0.30},{"r":10,"d":-0.386,"j":-0.28},{"r":10,"d":-0.386,"j":-0.26},{"r":10,"d":-0.386,"j":-0.23},{"r":10,"d":-0.386,"j":-0.20},{"r":10,"d":-0.386,"j":-0.14},{"r":10,"d":-0.386,"j":-0.08},{"r":10,"d":-0.386,"j":-0.03},{"r":10,"d":-0.386,"j":0.02},{"r":10,"d":-0.386,"j":0.07},{"r":10,"d":-0.386,"j":0.12},{"r":10,"d":-0.386,"j":0.16},{"r":10,"d":-0.386,"j":0.21},{"r":10,"d":-0.386,"j":0.28},{"r":10,"d":-0.386,"j":0.35},
{"r":10,"d":-0.094,"j":0.29},{"r":10,"d":-0.092,"j":0.15},{"r":10,"d":-0.089,"j":-0.15},{"r":10,"d":-0.084,"j":-0.01},{"r":10,"d":-0.070,"j":-0.14},{"r":10,"d":-0.068,"j":0.15},{"r":10,"d":-0.055,"j":-0.26},{"r":10,"d":-0.047,"j":0.35},{"r":10,"d":-0.040,"j":-0.29},{"r":10,"d":-0.023,"j":-0.26},{"r":10,"d":-0.018,"j":0.34},{"r":10,"d":-0.012,"j":-0.24},{"r":10,"d":-0.010,"j":-0.28},{"r":10,"d":0.008,"j":-0.26},{"r":10,"d":0.012,"j":-0.26},{"r":10,"d":0.013,"j":0.33},{"r":10,"d":0.028,"j":0.40},{"r":10,"d":0.048,"j":-0.31},
{"r":10,"d":-0.043,"j":-0.10},{"r":10,"d":-0.035,"j":0.16},{"r":10,"d":-0.029,"j":0.03},{"r":10,"d":-0.023,"j":0.13},{"r":10,"d":-0.010,"j":-0.01},{"r":10,"d":-0.007,"j":0.0},{"r":10,"d":-0.002,"j":0.12},{"r":10,"d":0.0,"j":0.19},{"r":10,"d":0.004,"j":0.03},{"r":10,"d":0.014,"j":-0.05},{"r":10,"d":0.031,"j":0.04},{"r":10,"d":0.037,"j":-0.01},{"r":10,"d":0.039,"j":-0.04},{"r":10,"d":0.041,"j":-0.08},{"r":10,"d":0.047,"j":0.16},{"r":10,"d":0.050,"j":0.12},{"r":10,"d":0.054,"j":0.09},{"r":10,"d":0.056,"j":-0.17},{"r":10,"d":0.060,"j":-0.19},{"r":10,"d":0.064,"j":0.0},{"r":10,"d":0.065,"j":-0.01},{"r":10,"d":0.060,"j":0.29},{"r":10,"d":0.062,"j":0.28},{"r":10,"d":0.072,"j":-0.17},{"r":10,"d":0.079,"j":0.26},{"r":10,"d":0.091,"j":0.07},{"r":10,"d":0.096,"j":-0.26},{"r":10,"d":0.099,"j":-0.25},{"r":10,"d":0.100,"j":0.16},{"r":10,"d":-0.045,"j":0.31},{"r":10,"d":-0.019,"j":0.28},{"r":10,"d":-0.047,"j":0.28},
{"r":10,"d":0.107,"j":-0.25},{"r":10,"d":0.112,"j":-0.15},{"r":10,"d":0.118,"j":-0.14},{"r":10,"d":0.117,"j":-0.04},{"r":10,"d":0.118,"j":0.09},{"r":10,"d":0.110,"j":0.23},{"r":10,"d":0.125,"j":0.14},{"r":10,"d":0.128,"j":0.19},{"r":10,"d":0.134,"j":-0.14},{"r":10,"d":0.135,"j":-0.08},{"r":10,"d":0.140,"j":0.04},{"r":10,"d":0.145,"j":-0.26},{"r":10,"d":0.147,"j":0.12},{"r":10,"d":0.149,"j":0.16},{"r":10,"d":0.153,"j":-0.11},{"r":10,"d":0.158,"j":0.20},{"r":10,"d":0.164,"j":-0.15},{"r":10,"d":0.117,"j":0.36},{"r":10,"d":0.36,"j":-0.21},{"r":10,"d":0.199,"j":0.27},{"r":10,"d":0.30,"j":0.38}
]
},
"layer": [
{
"layer": [
{
"data": {"name": "boxes"},
"mark": {"type": "bar", "height": 36, "fill": "#9dcfcf", "stroke": "#c6e5e4", "strokeWidth": 1},
"encoding": {
"y": {"field": "r", "type": "ordinal", "axis": null, "scale": {"type": "band", "domain": [0,1,2,3,4,5,6,7,8,9,10], "paddingInner": 0, "paddingOuter": 0}},
"x": {"field": "lo", "type": "quantitative", "title": "Change in R²",
"scale": {"domain": [-0.408, 0.36], "nice": false, "zero": false},
"axis": {"orient": "bottom", "values": [-0.4, -0.3, -0.2, -0.1, 0, 0.1, 0.2, 0.3], "format": ".1~f",
"labelExpr": "replace(datum.label, '\u2212', '-')", "labelFlush": false, "grid": false,
"domainColor": "#7dc0c6", "domainWidth": 1.5, "tickColor": "#7dc0c6", "tickWidth": 1.5, "tickSize": -8,
"labelColor": "#6db4bc", "labelFontSize": 14, "labelPadding": 17,
"titleColor": "#6db4bc", "titleFontSize": 15.5, "titleFontWeight": "normal", "titlePadding": 12}},
"x2": {"field": "hi"}
}
},
{
"data": {"name": "boxes"},
"transform": [{"filter": "datum.r == 0"}],
"mark": {"type": "rule", "color": "#5aaebd", "strokeWidth": 2},
"encoding": {"x": {"datum": 0}, "y": {"field": "r", "type": "ordinal", "axis": null, "scale": {"type": "band", "domain": [0,1,2,3,4,5,6,7,8,9,10], "paddingInner": 0, "paddingOuter": 0}}, "y2": {"value": "height"}}
},
{
"data": {"name": "pts"},
"mark": {"type": "circle", "size": 5, "color": "#5a9ea7", "opacity": 0.9},
"encoding": {
"y": {"field": "r", "type": "ordinal", "axis": null, "scale": {"type": "band", "domain": [0,1,2,3,4,5,6,7,8,9,10], "paddingInner": 0, "paddingOuter": 0}},
"yOffset": {"field": "j", "type": "quantitative", "scale": {"domain": [-0.5, 0.5]}},
"x": {"field": "d", "type": "quantitative"}
}
},
{
"data": {"name": "boxes"},
"mark": {"type": "tick", "orient": "vertical", "size": 36, "thickness": 2.5, "color": "#c9981f"},
"encoding": {
"y": {"field": "r", "type": "ordinal", "axis": null, "scale": {"type": "band", "domain": [0,1,2,3,4,5,6,7,8,9,10], "paddingInner": 0, "paddingOuter": 0}},
"x": {"field": "med", "type": "quantitative"}
}
},
{
"data": {"name": "slopes"},
"mark": {"type": "line", "color": "#f01ef0", "strokeWidth": 1.8},
"encoding": {
"y": {"field": "r", "type": "ordinal", "axis": null, "scale": {"type": "band", "domain": [0,1,2,3,4,5,6,7,8,9,10], "paddingInner": 0, "paddingOuter": 0}},
"yOffset": {"field": "j", "type": "quantitative", "scale": {"domain": [-0.5, 0.5]}},
"x": {"field": "d", "type": "quantitative"},
"detail": {"field": "r"}
}
},
{
"data": {"name": "boxes"},
"mark": {"type": "text", "align": "left", "baseline": "middle", "fontSize": 14.3, "color": "#2f4d4d"},
"encoding": {
"y": {"field": "r", "type": "ordinal", "axis": null, "scale": {"type": "band", "domain": [0,1,2,3,4,5,6,7,8,9,10], "paddingInner": 0, "paddingOuter": 0}},
"x": {"datum": 0.191},
"text": {"field": "name"}
}
}
]
},
{
"data": {"name": "freq"},
"mark": {"type": "point", "shape": "M0,-1L0.72,0L0,1L-0.72,0Z", "filled": true, "size": 150, "color": "#b0473b", "opacity": 1},
"encoding": {
"y": {"field": "r", "type": "ordinal", "axis": null, "scale": {"type": "band", "domain": [0,1,2,3,4,5,6,7,8,9,10], "paddingInner": 0, "paddingOuter": 0}},
"x": {"field": "f", "type": "quantitative", "title": "Selection Frequency",
"scale": {"domain": [0, 1], "nice": false, "zero": false},
"axis": {"orient": "top", "values": [0, 0.2, 0.4, 0.6, 0.8, 1], "format": "~g", "labelFlush": false, "grid": false,
"domainColor": "#b0483c", "domainWidth": 2.5, "tickColor": "#b0483c", "tickWidth": 2.5, "tickSize": 7,
"labelColor": "#b0483c", "labelFontSize": 14, "labelFontWeight": "bold", "labelPadding": 5,
"titleColor": "#b0483c", "titleFontSize": 14.3, "titleFontWeight": "bold", "titlePadding": 6}}
}
}
],
"resolve": {"scale": {"x": "independent"}, "axis": {"x": "independent"}}
}
